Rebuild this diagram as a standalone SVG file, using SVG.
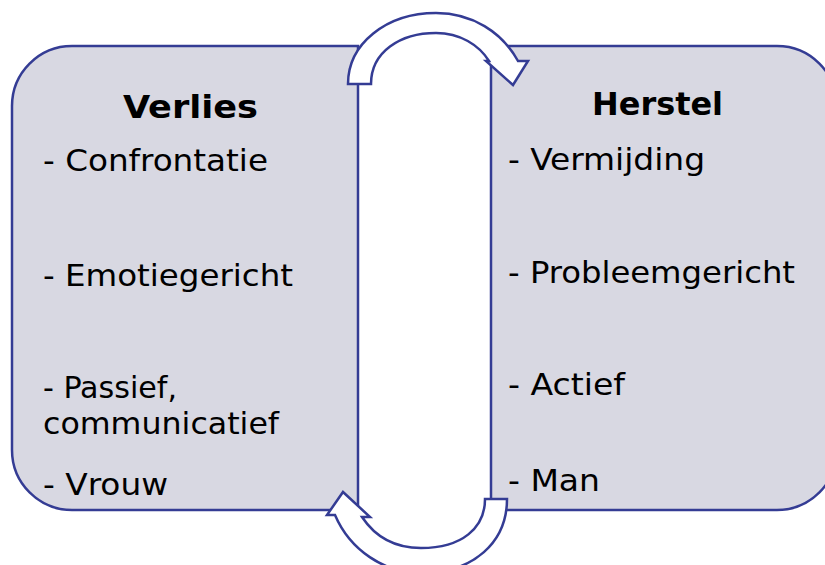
<svg xmlns="http://www.w3.org/2000/svg" width="825" height="565" viewBox="0 0 825 565">
<style>
.box{fill:#d8d8e2;stroke:#343c94;stroke-width:2.5}
.arr{fill:#ffffff;stroke:#343c94;stroke-width:2.5;stroke-linejoin:miter}
.t{font-family:"DejaVu Sans Condensed","DejaVu Sans",sans-serif;font-size:31px;fill:#000}
.h{font-family:"DejaVu Sans Condensed","DejaVu Sans",sans-serif;font-size:32px;font-weight:bold;fill:#000}
</style>
<rect width="825" height="565" fill="#ffffff"/>
<g id="verlies">
<path class="box" d="M72 46 H358 V510 H72 A60 60 0 0 1 12 450 V106 A60 60 0 0 1 72 46 Z"/>
<text class="h" x="123" y="118" textLength="135" lengthAdjust="spacingAndGlyphs">Verlies</text>
<text class="t" x="43" y="171" textLength="225" lengthAdjust="spacingAndGlyphs">- Confrontatie</text>
<text class="t" x="43" y="286" textLength="250" lengthAdjust="spacingAndGlyphs">- Emotiegericht</text>
<text class="t" x="43" y="398" textLength="134" lengthAdjust="spacingAndGlyphs">- Passief,</text>
<text class="t" x="43" y="434" textLength="236" lengthAdjust="spacingAndGlyphs">communicatief</text>
<text class="t" x="43" y="495" textLength="125" lengthAdjust="spacingAndGlyphs">- Vrouw</text>
</g>
<g id="herstel">
<path class="box" d="M491 46 H777 A60 60 0 0 1 837 106 V450 A60 60 0 0 1 777 510 H491 Z"/>
<text class="h" x="592" y="115" textLength="131" lengthAdjust="spacingAndGlyphs">Herstel</text>
<text class="t" x="508" y="170" textLength="197" lengthAdjust="spacingAndGlyphs">- Vermijding</text>
<text class="t" x="508" y="283" textLength="287" lengthAdjust="spacingAndGlyphs">- Probleemgericht</text>
<text class="t" x="508" y="395" textLength="117" lengthAdjust="spacingAndGlyphs">- Actief</text>
<text class="t" x="508" y="491" textLength="92" lengthAdjust="spacingAndGlyphs">- Man</text>
</g>
<g id="connectors">
<path class="arr" d="M348 84 L371 84 C371 52 400 33 436 33 C460 33 479 45 489 61 L486 61 L513 85 L528 61 L518 61 C502 32 472 13 436 13 C386 13 348 44 348 84 Z"/>
<path class="arr" d="M485 499 L507 499 C507 542 474 573 421 573 C384 573 350 550 335 515 L327 515 L343 492 L370 517 L362 517 C376 538 396 548 421 548 C462 548 485 528 485 499 Z"/>
</g>
</svg>
